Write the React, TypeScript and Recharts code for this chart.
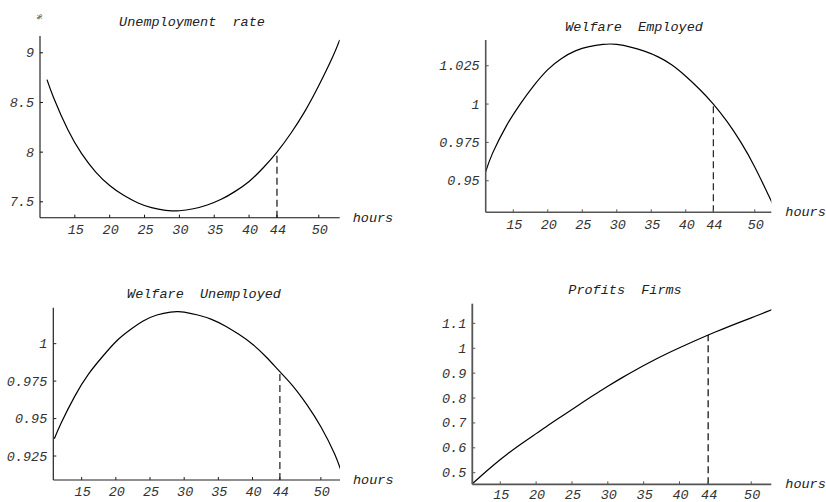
import React from 'react';
import { LineChart, Line, XAxis, YAxis, ReferenceLine } from 'recharts';

const hours = [11, 12, 14, 16, 18, 20, 22, 24, 26, 28, 29, 30, 32, 34, 36, 38, 40, 42, 44, 46, 48, 50, 52, 53];
const unemploymentRate = [8.73, 8.54, 8.225, 7.982, 7.799, 7.664, 7.565, 7.491, 7.441, 7.414, 7.409, 7.41, 7.43, 7.468, 7.525, 7.605, 7.705, 7.84, 8.0, 8.19, 8.41, 8.67, 8.96, 9.13];
const welfareEmployed = [0.9559, 0.968, 0.9858, 1.0, 1.0122, 1.0225, 1.0298, 1.0347, 1.0375, 1.0389, 1.0392, 1.0389, 1.0372, 1.0345, 1.0308, 1.0255, 1.0182, 1.0097, 1.0, 0.9885, 0.975, 0.959, 0.9405, 0.931];
const welfareUnemployed = [0.9365, 0.947, 0.965, 0.9797, 0.9911, 1.0013, 1.0089, 1.0151, 1.0191, 1.0211, 1.0214, 1.0211, 1.0191, 1.0162, 1.0118, 1.0062, 0.9996, 0.9911, 0.9813, 0.9712, 0.959, 0.9445, 0.9265, 0.9145];
const profitsFirms = [0.453, 0.479, 0.529, 0.575, 0.617, 0.657, 0.697, 0.735, 0.773, 0.811, 0.829, 0.847, 0.882, 0.915, 0.946, 0.975, 1.002, 1.028, 1.053, 1.077, 1.1, 1.122, 1.145, 1.156];

const hourTicks = [15, 20, 25, 30, 35, 40, 44, 50];
const markHour = 44;
const unemploymentTicks = [7.5, 8, 8.5, 9];
const welfareEmployedTicks = [0.95, 0.975, 1, 1.025];
const welfareUnemployedTicks = [0.925, 0.95, 0.975, 1];
const profitsTicks = [0.5, 0.6, 0.7, 0.8, 0.9, 1, 1.1];

const titles = ['Unemployment  rate', 'Welfare  Employed', 'Welfare  Unemployed', 'Profits  Firms'];
const xLabel = 'hours';
const unitLabel = '%';

const rows = hours.map((h, i) => ({
  h,
  u: unemploymentRate[i],
  we: welfareEmployed[i],
  wu: welfareUnemployed[i],
  p: profitsFirms[i],
}));

const FONT = "'Liberation Mono', 'DejaVu Sans Mono', monospace";
const W = 826;
const H = 502;
const AXIS_H = 20;
const AXIS_W = 40;

type Panel = {
  key: 'u' | 'we' | 'wu' | 'p';
  values: number[];
  yTicks: number[];
  xDomain: [number, number];
  yDomain: [number, number];
  left: number;
  right: number;
  top: number;
  bottom: number;
  axisColor: string;
  axisWidth: number;
  dashColor: string;
  dashWidth: number;
  labelOffset: number;
  tickTextOffset: number;
};

const panels: Panel[] = [
  { key: 'u', values: unemploymentRate, yTicks: unemploymentTicks, xDomain: [10, 53], yDomain: [7.34, 9.17], left: 40, right: 339.7, top: 35.9, bottom: 217.7, axisColor: '#111', axisWidth: 1.1, dashColor: '#111', dashWidth: 1.2, labelOffset: 13, tickTextOffset: 16.5 },
  { key: 'we', values: welfareEmployed, yTicks: welfareEmployedTicks, xDomain: [11, 52.4], yDomain: [0.9294, 1.0418], left: 485.7, right: 771.3, top: 40, bottom: 212.3, axisColor: '#555', axisWidth: 1.6, dashColor: '#222', dashWidth: 1.2, labelOffset: 14, tickTextOffset: 16.5 },
  { key: 'wu', values: welfareUnemployed, yTicks: welfareUnemployedTicks, xDomain: [10.85, 52.8], yDomain: [0.909, 1.024], left: 53.3, right: 340, top: 307.7, bottom: 480, axisColor: '#222', axisWidth: 1.2, dashColor: '#555', dashWidth: 1.6, labelOffset: 13, tickTextOffset: 16 },
  { key: 'p', values: profitsFirms, yTicks: profitsTicks, xDomain: [11.1, 52.8], yDomain: [0.4534, 1.179], left: 472.3, right: 771.3, top: 303.7, bottom: 484.3, axisColor: '#555', axisWidth: 1.8, dashColor: '#444', dashWidth: 1.6, labelOffset: 14, tickTextOffset: 14.8 },
];

const titlePos = [
  { x: 192, y: 26 },
  { x: 634, y: 30.5 },
  { x: 204, y: 298 },
  { x: 625, y: 294 },
];

const XTick = (props: any) => {
  const { x, y, payload, color, off } = props;
  return (
    <g>
      <line x1={x} y1={y} x2={x} y2={y - 3} stroke={color} strokeWidth={1} />
      <text x={x + 1} y={y + off} textAnchor="middle" fontFamily={FONT} fontStyle="italic" fontSize={13.5} fill="#333">
        {String(payload.value)}
      </text>
    </g>
  );
};

const YTick = (props: any) => {
  const { x, y, payload, color } = props;
  return (
    <g>
      <line x1={x} y1={y} x2={x + 3} y2={y} stroke={color} strokeWidth={1} />
      <text x={x - 6} y={y + 4.5} textAnchor="end" fontFamily={FONT} fontStyle="italic" fontSize={13.5} fill="#333">
        {String(payload.value)}
      </text>
    </g>
  );
};

export default function App() {
  return (
    <div style={{ position: 'absolute', left: 0, top: 0, width: W, height: H, background: '#fff' }}>
      {panels.map((p) => {
        const v44 = p.values[hours.indexOf(markHour)];
        return (
          <div key={p.key} style={{ position: 'absolute', left: 0, top: 0, width: W, height: H }}>
            <LineChart
              width={W}
              height={H}
              data={rows}
              margin={{ top: p.top, left: p.left - AXIS_W, right: W - p.right, bottom: H - p.bottom - AXIS_H }}
            >
              <XAxis
                dataKey="h"
                type="number"
                domain={p.xDomain}
                allowDataOverflow
                ticks={hourTicks}
                interval={0}
                height={AXIS_H}
                tickSize={0}
                tickMargin={0}
                tickLine={false}
                axisLine={{ stroke: p.axisColor, strokeWidth: p.axisWidth }}
                tick={(tp: any) => <XTick {...tp} color={p.axisColor} off={p.tickTextOffset} />}
              />
              <YAxis
                type="number"
                domain={p.yDomain}
                allowDataOverflow
                ticks={p.yTicks}
                interval={0}
                width={AXIS_W}
                tickSize={0}
                tickMargin={0}
                tickLine={false}
                axisLine={{ stroke: p.axisColor, strokeWidth: p.axisWidth }}
                tick={(tp: any) => <YTick {...tp} color={p.axisColor} />}
              />
              <ReferenceLine
                segment={[{ x: markHour, y: p.yDomain[0] }, { x: markHour, y: v44 }]}
                stroke={p.dashColor}
                strokeWidth={p.dashWidth}
                strokeDasharray="7 4"
                ifOverflow="visible"
              />
              <Line
                dataKey={p.key}
                type="natural"
                dot={false}
                activeDot={false}
                stroke="#000"
                strokeWidth={1.2}
                isAnimationActive={false}
              />
            </LineChart>
          </div>
        );
      })}
      <svg width={W} height={H} style={{ position: 'absolute', left: 0, top: 0, pointerEvents: 'none' }}>
        {titles.map((t, i) => (
          <text
            key={t}
            x={titlePos[i].x}
            y={titlePos[i].y}
            textAnchor="middle"
            fontFamily={FONT}
            fontStyle="italic"
            fontSize={13.5}
            fill="#222"
            style={{ whiteSpace: 'pre' }}
          >
            {t}
          </text>
        ))}
        {panels.map((p) => (
          <text
            key={'lbl-' + p.key}
            x={p.right + p.labelOffset}
            y={p.bottom + 4}
            fontFamily={FONT}
            fontStyle="italic"
            fontSize={13.5}
            fill="#222"
          >
            {xLabel}
          </text>
        ))}
        <text x={40} y={17} textAnchor="middle" fontFamily={FONT} fontSize={8} fill="#333" transform="rotate(90 40 17)" dy={3}>
          {unitLabel}
        </text>
      </svg>
    </div>
  );
}
